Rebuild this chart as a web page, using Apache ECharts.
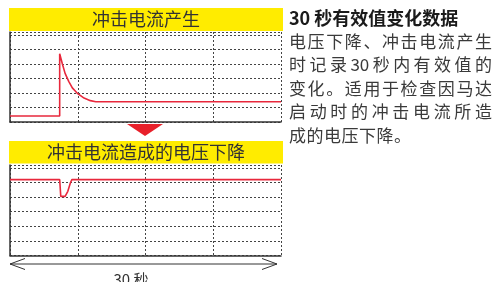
<!DOCTYPE html>
<html>
<head>
<meta charset="utf-8">
<script src="https://cdn.jsdelivr.net/npm/echarts@6/dist/echarts.min.js"></script>
<style>
html,body{margin:0;padding:0;background:#fff;}
#c{width:494px;height:282px;}
</style>
</head>
<body>
<div id="c"></div>
<script>
// ---- data ----
const topTitle = '冲击电流产生';
const bottomTitle = '冲击电流造成的电压下降';
const timeLabel = '30 秒';
const sideTitle = '30 秒有效值变化数据';
const sideLines = ['电压下降、冲击电流产生', '时记录 30 秒内有效值的', '变化。适用于检查因马达', '启动时的冲击电流所造', '成的电压下降。'];
// current (time s, level)
const currentTime = [0, 5.5, 5.5, 5.8, 6.1, 6.5, 6.9, 7.5, 8.2, 8.9, 9.5, 30];
const currentVal  = [0.41, 0.41, 4.7, 4.0, 3.35, 2.8, 2.35, 1.95, 1.65, 1.47, 1.4, 1.4];
// voltage (time s, level)
const voltageTime = [0, 5.5, 5.62, 5.8, 6.1, 6.4, 6.7, 6.85, 30];
const voltageVal  = [5.2, 5.2, 4.05, 4.0, 4.05, 4.4, 5.0, 5.2, 5.2];

const pairs = (t, v) => t.map((x, i) => [x, v[i]]);

const chart = echarts.init(document.getElementById('c'));
const FONT = '"Noto Sans CJK SC", sans-serif';
const split = {show: true, lineStyle: {color: '#444', type: [2, 2], width: 1}};
function xAx(gi) {
  return {gridIndex: gi, type: 'value', min: 0, max: 30, interval: 7.5,
    axisLine: {show: true, lineStyle: {color: '#333', width: 1.5}},
    axisTick: {show: false}, axisLabel: {show: false}, splitLine: split};
}
function yAx(gi) {
  return {gridIndex: gi, type: 'value', min: 0, max: 6.2, interval: 1,
    axisLine: {show: true, lineStyle: {color: '#333', width: 1.5}},
    axisTick: {show: false}, axisLabel: {show: false}, splitLine: split};
}

// justified text helper
const ctx = document.createElement('canvas').getContext('2d');
const graphics = [];
function layLine(line, font, x0, width, cy, size, fill, natural) {
  ctx.font = font;
  const tokens = line.match(/[0-9]+|\s+|./g).filter(t => t.trim() !== '');
  const widths = tokens.map(t => ctx.measureText(t).width);
  const total = widths.reduce((a, b) => a + b, 0);
  const gap = natural ? 0.5 : (width - total) / (tokens.length - 1);
  let x = x0;
  tokens.forEach((t, i) => {
    graphics.push({type: 'text', left: x, top: cy - size / 2 - 1,
      style: {text: t, font: font, fill: fill}});
    x += widths[i] + gap;
  });
}
const bodySize = 17;
const lineY = [42.5, 66, 89.5, 113, 137];
sideLines.forEach((line, li) => {
  layLine(line, bodySize + 'px ' + FONT, 289, 203, lineY[li], bodySize, '#3a3a3a', li === sideLines.length - 1);
});

graphics.push(
  {type: 'text', x: 289, y: 18, style: {text: sideTitle, font: 'bold 18px ' + FONT, fill: '#1a1a1a', align: 'left', verticalAlign: 'middle'}},
  {type: 'rect', shape: {x: 9, y: 8, width: 274, height: 23}, style: {fill: '#ffec00'}, z: -1},
  {type: 'text', x: 146, y: 19.5, style: {text: topTitle, font: '18px ' + FONT, fill: '#333', align: 'center', verticalAlign: 'middle'}},
  {type: 'rect', shape: {x: 9, y: 141, width: 274, height: 22.5}, style: {fill: '#ffec00'}, z: -1},
  {type: 'text', x: 146, y: 152.5, style: {text: bottomTitle, font: '18px ' + FONT, fill: '#333', align: 'center', verticalAlign: 'middle'}},
  {type: 'polygon', shape: {points: [[127, 124], [163, 124], [145, 136]]}, style: {fill: '#e8202a'}},
  {type: 'polyline', shape: {points: [[25, 258.5], [10, 264], [25, 269.5]]}, style: {stroke: '#333', lineWidth: 1, fill: null}},
  {type: 'line', shape: {x1: 10, y1: 264, x2: 277, y2: 264}, style: {stroke: '#333', lineWidth: 1}},
  {type: 'polyline', shape: {points: [[262, 258.5], [277, 264], [262, 269.5]]}, style: {stroke: '#333', lineWidth: 1, fill: null}},
  {type: 'text', x: 131, y: 272, style: {text: timeLabel, font: '15px ' + FONT, fill: '#333', align: 'center', verticalAlign: 'top'}}
);

chart.setOption({
  animation: false,
  grid: [
    {left: 10, top: 32, width: 271, height: 90},
    {left: 10, top: 165, width: 271, height: 90.5}
  ],
  xAxis: [xAx(0), xAx(1)],
  yAxis: [yAx(0), yAx(1)],
  series: [
    {type: 'line', xAxisIndex: 0, yAxisIndex: 0, data: pairs(currentTime, currentVal), showSymbol: false, smooth: false,
      lineStyle: {color: '#e8283c', width: 1.6}, z: 5},
    {type: 'line', xAxisIndex: 1, yAxisIndex: 1, data: pairs(voltageTime, voltageVal), showSymbol: false, smooth: false,
      lineStyle: {color: '#e8283c', width: 1.6}, z: 5}
  ],
  graphic: graphics
});
</script>
</body>
</html>
